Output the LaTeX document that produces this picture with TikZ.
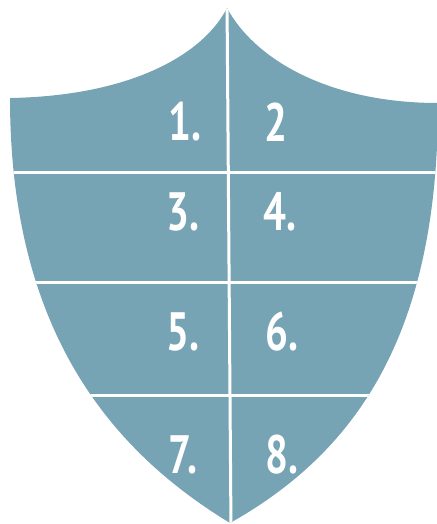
\documentclass[tikz,border=0pt]{standalone}
\usepackage{fontspec}
\setmainfont{PT Sans}
\usepackage{tikz}
\definecolor{shieldblue}{RGB}{118,164,180}
\newcommand{\contorno}{(227,8) .. controls (255,60) and (330,103) .. (438,103)
    .. controls (438,330) and (360,450) .. (230,523)
    .. controls (110,450) and (10,330) .. (10,98)
    .. controls (130,96) and (203,55) .. (227,8) -- cycle}
\tikzset{
    numlabel/.style={text=white, font=\fontsize{54}{58}\selectfont\bfseries, inner sep=0pt},
    division/.style={white, line width=3pt}
}

\begin{document}
\begin{tikzpicture}[x=1pt,y=-1pt]
    \useasboundingbox (0,0) rectangle (436,524);
    % Escudo
    \fill[shieldblue] \contorno;
    % Divisiones
    \begin{scope}
        \clip \contorno;
        \foreach \y in {172,282,395} {
            \draw[division] (0,\y) -- (440,\y);
        }
        \draw[division] (227,0) -- (231,530);
    \end{scope}
    % Numeros
    \foreach \t/\x/\y [count=\i] in {1./185/122, 2/276/122, 3./183/212, 4./280/212,
                                     5./183/332, 6./282/332, 7./183/455, 8./282/455} {
        \node[numlabel] (n\i) at (\x,\y) {\scalebox{0.75}[1]{\t}};
    }
\end{tikzpicture}
\end{document}
